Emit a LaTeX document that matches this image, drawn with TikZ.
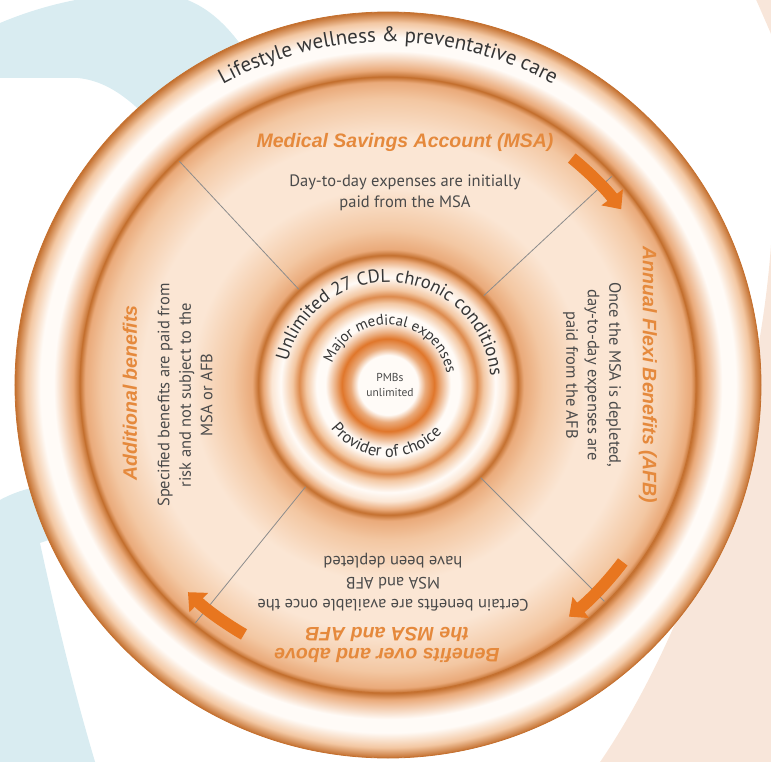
\documentclass[tikz,border=0pt]{standalone}
\usepackage{fontspec}
\setmainfont{PT Sans}
\newfontfamily\headfont{Liberation Sans}
\usetikzlibrary{arrows.meta,decorations.text}
\definecolor{bgblue}{HTML}{D9ECF1}
\definecolor{bgpeach}{HTML}{F8E6DA}
\definecolor{headorange}{HTML}{E5893C}
\definecolor{bodygray}{HTML}{4A4A4A}
\definecolor{ringgray}{HTML}{363636}
\definecolor{arroworange}{HTML}{E8761F}
\definecolor{shWhite}{HTML}{FFFBF7}
\definecolor{shCream}{HTML}{FBE6D4}
\definecolor{shPeach}{HTML}{F3C7A2}
\definecolor{shTan}{HTML}{EAAA7A}
\definecolor{shOrange}{HTML}{DD8A4C}
\definecolor{shDark}{HTML}{C4702F}
\definecolor{shCore}{HTML}{E0762A}
\pgfdeclareradialshading{wheelshade}{\pgfpoint{0bp}{0bp}}{%
color(0bp)=(shWhite);
color(2.0bp)=(shWhite);
color(2.5bp)=(shTan);
color(3.1bp)=(shCore);
color(3.5bp)=(shTan);
color(4.2bp)=(shWhite);
color(4.8bp)=(shWhite);
color(5.5bp)=(shPeach);
color(5.95bp)=(shOrange);
color(6.4bp)=(shPeach);
color(7.2bp)=(shWhite);
color(7.8bp)=(shCream);
color(8.35bp)=(shTan);
color(8.7bp)=(shDark);
color(9.1bp)=(shTan);
color(10.4bp)=(shPeach);
color(13.2bp)=(shCream);
color(16.5bp)=(shCream);
color(19.2bp)=(shPeach);
color(20.3bp)=(shTan);
color(20.65bp)=(shDark);
color(21.1bp)=(shTan);
color(22.4bp)=(shWhite);
color(23.3bp)=(shWhite);
color(24.3bp)=(shPeach);
color(25bp)=(shDark);
color(50bp)=(shDark)}

\begin{document}
\begin{tikzpicture}[x=1pt,y=1pt,
heading/.style={font=\headfont\bfseries\itshape\fontsize{19.5}{21}\selectfont,text=headorange,align=center},
body/.style={font=\fontsize{16.5}{21.5}\selectfont,text=bodygray,align=center},
coretext/.style={font=\fontsize{11.5}{15}\selectfont,text=bodygray,align=center},
divider/.style={draw=black!45,line width=0.8pt},
rimline/.style={draw=shDark,line width=0.8pt},
flowarrow/.style={draw=arroworange,line width=12pt,-{Triangle[width=26pt,length=15pt]}},
ringlabel/.style={decorate,decoration={text along path,text align=center,text={#1}}}]
\useasboundingbox (-388,-376) rectangle (383,385);
\clip (-388,-376) rectangle (383,385);
\fill[bgblue] (-388,307) -- (-388,362) .. controls (-350,378) and (-300,392) .. (-240,392) .. controls (-200,392) and (-170,375) .. (-140,330) -- (-200,220) .. controls (-240,270) and (-270,303) .. (-310,307) -- cycle;
\fill[bgblue] (-390,-116) .. controls (-372,-106) and (-352,-100) .. (-330,-100) -- (-325,-150) -- (-348,-158) .. controls (-328,-250) and (-310,-320) .. (-292,-380) -- (-390,-380) -- cycle;
\fill[bgpeach] (383,140) .. controls (370,-40) and (300,-250) .. (210,-380) -- (390,-380) -- (390,140) -- cycle;
\fill[bgpeach] (366,390) .. controls (374,372) and (380,358) .. (390,335) -- (390,390) -- cycle;
\shade[shading=wheelshade] (0,0) circle (373);
\draw[rimline] (0,0) circle (373);
\draw[rimline] (0,0) circle (308);
\draw[divider] (43:131) -- (43:306);
\draw[divider] (133:131) -- (133:306);
\draw[divider] (231:131) -- (231:306);
\draw[divider] (-45:131) -- (-45:306);
\draw[flowarrow] (51:292) arc (51:37:292);
\draw[flowarrow] (-37:294) arc (-37:-52:294);
\draw[flowarrow] (240:288) arc (240:226:288);
\path[ringlabel={|\fontsize{21}{21}\selectfont\color{ringgray}|Lifestyle wellness {\&} preventative care}] (180:343) arc (180:0:343);
\path[ringlabel={|\fontsize{18.5}{18.5}\selectfont\color{ringgray}|Unlimited 27 CDL chronic conditions}] (176:103) arc (176:-4:103);
\path[ringlabel={|\fontsize{15}{15}\selectfont\color{ringgray}|Major medical expenses}] (175:60) arc (175:-5:60);
\path[ringlabel={|\fontsize{16.5}{16.5}\selectfont\color{ringgray}|Provider of choice}] (178:72) arc (178:358:72);
\node[coretext] (pmb) at (2,0) {PMBs\\unlimited};
\node[heading] (msahead) at (17,243) {Medical Savings Account (MSA)};
\node[body] (msatext) at (17,192) {Day-to-day expenses are initially\\paid from the MSA};
\node[heading,rotate=-90] (afbhead) at (260,10) {Annual Flexi Benefits (AFB)};
\node[body,rotate=-90] (afbtext) at (204,10) {Once the MSA is depleted,\\day-to-day expenses are\\paid from the AFB};
\node[heading,rotate=90] (addhead) at (-258,-8) {Additional benefits};
\node[body,rotate=90] (addtext) at (-203,-10) {Specified benefits are paid from\\risk and not subject to the\\MSA or AFB};
\node[heading,rotate=180] (overhead) at (-1,-260) {Benefits over and above\\the MSA and AFB};
\node[body,rotate=180] (overtext) at (5,-197) {Certain benefits are available once the\\MSA and AFB\\have been depleted};
\end{tikzpicture}
\end{document}
